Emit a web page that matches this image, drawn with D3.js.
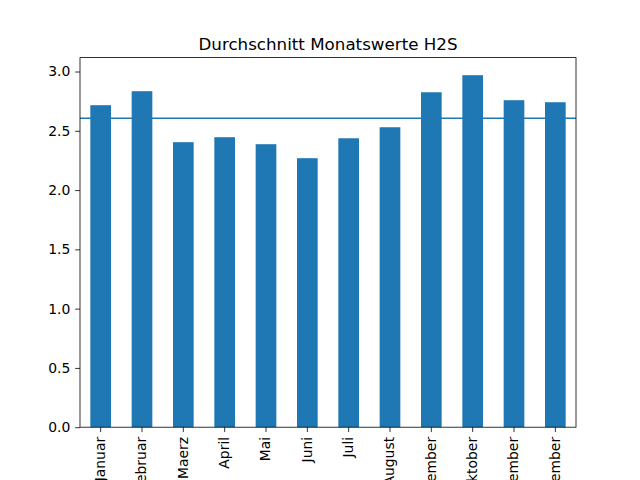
<!DOCTYPE html>
<html><head><meta charset="utf-8">
<script src="https://cdn.jsdelivr.net/npm/d3@7"></script>
<style>body{margin:0;background:#fff}svg{display:block}text{font-family:"DejaVu Sans",sans-serif;fill:#000}</style>
</head><body>
<script>
const months = ["Januar","Februar","Maerz","April","Mai","Juni","Juli","August","September","Oktober","November","Dezember"];
const values = [2.716,2.834,2.404,2.446,2.387,2.269,2.437,2.530,2.825,2.969,2.758,2.741];
const meanValue = 2.606;
const yTicks = [0.0,0.5,1.0,1.5,2.0,2.5,3.0];
const title = "Durchschnitt Monatswerte H2S";

const W=640,H=480, L=80, R=576, T=57.6, B=427.2;
const color="#1f77b4";
const svg=d3.select("body").append("svg").attr("width",W).attr("height",H);

const x=d3.scaleBand().domain(months).range([L,R]).paddingInner(0.5).paddingOuter(0.25);
const yMax=d3.max(values)*1.05;
const y=d3.scaleLinear().domain([0,yMax]).range([B,T]);

svg.selectAll("rect.bar").data(values).join("rect").attr("class","bar")
  .attr("x",(d,i)=>x(months[i])).attr("width",x.bandwidth())
  .attr("y",d=>y(d)).attr("height",d=>B-y(d)).attr("fill",color);

svg.append("line").attr("x1",L).attr("x2",R).attr("y1",y(meanValue)).attr("y2",y(meanValue))
  .attr("stroke",color).attr("stroke-width",1.5);

// y axis
const yAxis=svg.append("g").attr("transform",`translate(${L},0)`)
  .call(d3.axisLeft(y).tickValues(yTicks).tickFormat(d3.format(".1f")).tickSize(4.86).tickPadding(4.86));
yAxis.select(".domain").remove();
yAxis.selectAll("line").attr("stroke","#000").attr("stroke-width",0.8);
yAxis.selectAll("text").attr("font-size","13.9px").attr("font-family","DejaVu Sans").attr("fill","#000");

// x axis
const xAxis=svg.append("g").attr("transform",`translate(0,${B})`)
  .call(d3.axisBottom(x).tickSize(4.86).tickPadding(4.86));
xAxis.select(".domain").remove();
xAxis.selectAll("line").attr("stroke","#000").attr("stroke-width",0.8);
xAxis.selectAll("text").attr("font-size","13.9px").attr("font-family","DejaVu Sans").attr("fill","#000")
  .attr("transform","rotate(-90)").attr("text-anchor","end").attr("y",0).attr("x",-9.7).attr("dy","0.32em");

// frame
svg.append("rect").attr("x",L).attr("y",T).attr("width",R-L).attr("height",B-T)
  .attr("fill","none").attr("stroke","#000").attr("stroke-width",0.8);

svg.append("text").attr("x",(L+R)/2).attr("y",T-8).attr("text-anchor","middle")
  .attr("font-size","16.7px").text(title);
</script>
</body></html>
